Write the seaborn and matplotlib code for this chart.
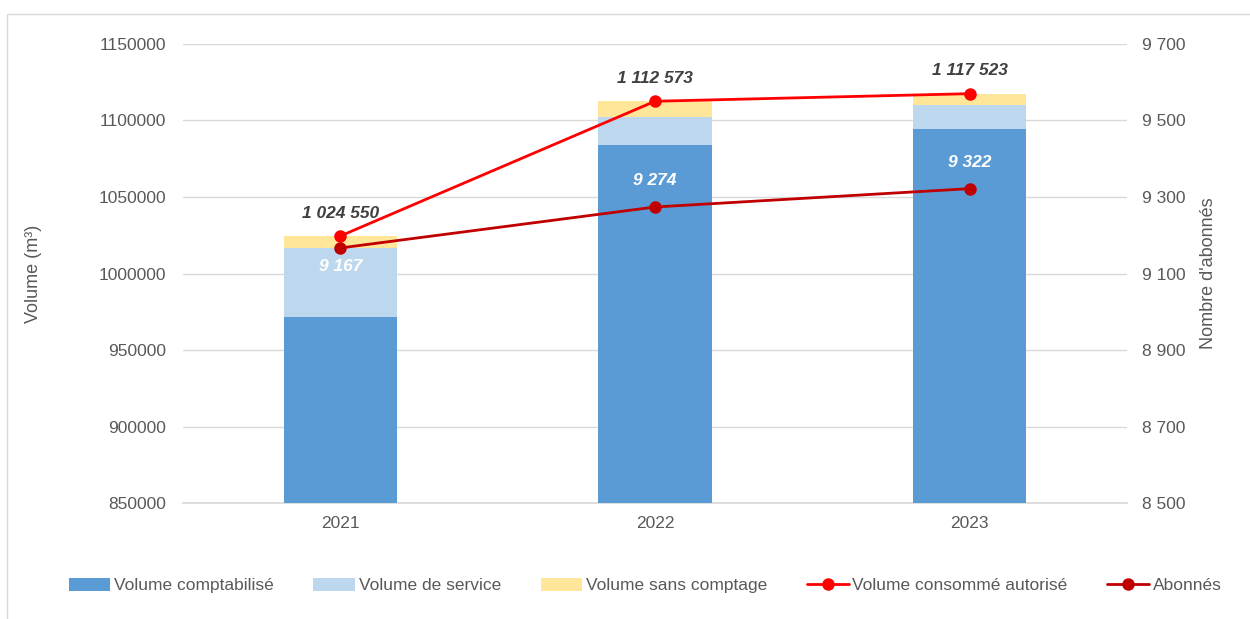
import matplotlib
matplotlib.use("Agg")
import matplotlib.pyplot as plt
import seaborn as sns
import numpy as np
import pandas as pd
from matplotlib.patches import Rectangle
from matplotlib.ticker import FixedLocator, FuncFormatter

years = ["2021", "2022", "2023"]
vol_comptabilise = [971500, 1084000, 1094500]
vol_service = [45000, 18500, 15500]
vol_sans_comptage = [8050, 10073, 7523]
vol_consomme_autorise = [1024550, 1112573, 1117523]
abonnes = [9167, 9274, 9322]

left_ticks = [850000, 900000, 950000, 1000000, 1050000, 1100000, 1150000]
right_ticks = [8500, 8700, 8900, 9100, 9300, 9500, 9700]

C_COMPT = "#5B9BD5"
C_SERV = "#BDD7EE"
C_SANS = "#FFE699"
C_RED = "#FF0000"
C_DRED = "#C00000"
C_TEXT = "#595959"
C_GRID = "#D9D9D9"

sns.set_theme(style="white")
plt.rcParams["font.family"] = ["Liberation Sans", "DejaVu Sans"]

fig = plt.figure(figsize=(12.5, 6.19), dpi=100)
ax = fig.add_axes([0.1464, 0.187, 0.7552, 0.742])

df = pd.DataFrame({
    "year": years,
    "c1": vol_comptabilise,
    "c2": np.array(vol_comptabilise) + np.array(vol_service),
    "c3": np.array(vol_comptabilise) + np.array(vol_service) + np.array(vol_sans_comptage),
})

w = 0.36
sns.barplot(data=df, x="year", y="c3", color=C_SANS, width=w, ax=ax,
            saturation=1, zorder=2, label="Volume sans comptage", linewidth=0)
sns.barplot(data=df, x="year", y="c2", color=C_SERV, width=w, ax=ax,
            saturation=1, zorder=3, label="Volume de service", linewidth=0)
sns.barplot(data=df, x="year", y="c1", color=C_COMPT, width=w, ax=ax,
            saturation=1, zorder=4, label="Volume comptabilisé", linewidth=0)

xs = np.arange(len(years))
sns.lineplot(x=xs, y=vol_consomme_autorise, color=C_RED, marker="o", markersize=9,
             markeredgewidth=0, linewidth=2, ax=ax, zorder=6, label="Volume consommé autorisé")

ax.set_xlim(-0.5, 2.5)
ax.set_ylim(850000, 1150000)
ax.yaxis.set_major_locator(FixedLocator(left_ticks))
ax.yaxis.set_major_formatter(FuncFormatter(lambda v, p: f"{int(v)}"))
ax.grid(axis="y", color=C_GRID, linewidth=1, zorder=0)
ax.set_axisbelow(True)
for s in ax.spines.values():
    s.set_visible(False)
ax.spines["bottom"].set_visible(True)
ax.spines["bottom"].set_color(C_GRID)
ax.set_xlabel("")
ax.set_ylabel("Volume (m³)", fontsize=13, color=C_TEXT, labelpad=41)
ax.tick_params(axis="both", colors=C_TEXT, labelsize=12.5, length=0)
ax.tick_params(axis="y", pad=12)
ax.tick_params(axis="x", pad=9)

ax2 = ax.twinx()
sns.lineplot(x=xs, y=abonnes, color=C_DRED, marker="o", markersize=9,
             markeredgewidth=0, linewidth=2, ax=ax2, zorder=6, label="Abonnés")
ax2.set_ylim(8500, 9700)
ax2.yaxis.set_major_locator(FixedLocator(right_ticks))
ax2.yaxis.set_major_formatter(FuncFormatter(lambda v, p: f"{int(v):,}".replace(",", " ")))
for s in ax2.spines.values():
    s.set_visible(False)
ax2.tick_params(axis="y", colors=C_TEXT, labelsize=12.5, length=0, pad=11)
ax2.set_ylabel("Nombre d'abonnés", fontsize=13, color=C_TEXT, labelpad=10)
ax2.grid(False)

# labels for total volume
for x, v in zip(xs, vol_consomme_autorise):
    ax.annotate(f"{v:,}".replace(",", " "), (x, v), xytext=(0, 11), textcoords="offset points",
                ha="center", va="bottom", fontsize=12.5, fontweight="bold", fontstyle="italic",
                color="#404040", zorder=10)
# labels for abonnés
offs = [-13, 19, 19]
for x, v, o in zip(xs, abonnes, offs):
    ax2.annotate(f"{v:,}".replace(",", " "), (x, v), xytext=(0, o), textcoords="offset points",
                 ha="center", va="center", fontsize=12.5, fontweight="bold", fontstyle="italic",
                 color="white", zorder=10)

# legend
h1, l1 = ax.get_legend_handles_labels()
h2, l2 = ax2.get_legend_handles_labels()
hd = dict(zip(l1 + l2, h1 + h2))
order = ["Volume comptabilisé", "Volume de service", "Volume sans comptage",
         "Volume consommé autorisé", "Abonnés"]
if ax.get_legend():
    ax.get_legend().remove()
if ax2.get_legend():
    ax2.get_legend().remove()
leg = fig.legend([hd[k] for k in order], order, loc="center", bbox_to_anchor=(0.516, 0.054),
                 ncol=5, frameon=False, fontsize=12.5, handlelength=2.4, handleheight=0.8,
                 handletextpad=0.2, columnspacing=2.3, labelcolor=C_TEXT)

# figure border
fig.patches.append(Rectangle((7 / 1250, -0.1), 1.2, 1 - 14 / 619 + 0.1, transform=fig.transFigure,
                             fill=False, edgecolor="#D9D9D9", linewidth=1))

fig.savefig("out.png", dpi=100)
